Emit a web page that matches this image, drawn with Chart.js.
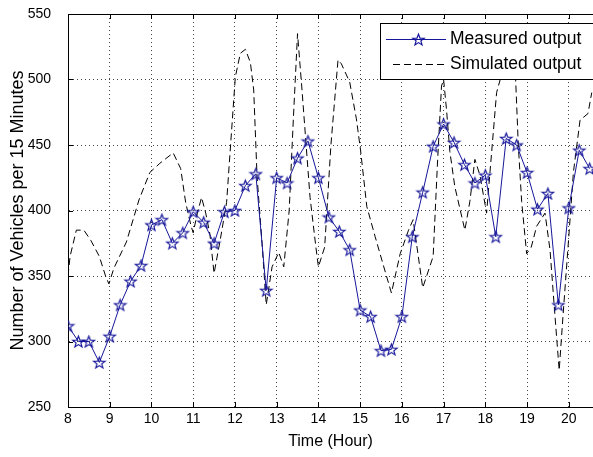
<!DOCTYPE html>
<html>
<head>
<meta charset="utf-8">
<script src="https://cdn.jsdelivr.net/npm/chart.js@4.4.1/dist/chart.umd.min.js"></script>
<style>
  html, body { margin: 0; padding: 0; background: #fff; overflow: hidden; }
  #wrap { width: 593px; height: 457px; }
</style>
</head>
<body>
<div id="wrap"><canvas id="myChart"></canvas></div>
<script>
// Measured output, one point every 15 minutes
const measuredTimes = [8, 8.25, 8.5, 8.75, 9, 9.25, 9.5, 9.75, 10, 10.25, 10.5, 10.75,
    11, 11.25, 11.5, 11.75, 12, 12.25, 12.5, 12.75, 13, 13.25, 13.5, 13.75,
    14, 14.25, 14.5, 14.75, 15, 15.25, 15.5, 15.75, 16, 16.25, 16.5, 16.75,
    17, 17.25, 17.5, 17.75, 18, 18.25, 18.5, 18.75, 19, 19.25, 19.5, 19.75,
    20, 20.25, 20.5];
const measuredValues = [312, 300, 300, 284, 304, 328, 346, 358, 389, 393, 375, 383,
    399, 391, 375, 399, 400, 419, 428, 339, 425, 421, 440, 453,
    425, 395, 384, 370, 324, 319, 293, 294, 319, 380, 414, 449,
    466, 452, 435, 421, 427, 380, 455, 450, 429, 401, 413, 328,
    402, 446, 432];

// Simulated output
const simulatedTimes = [8.0, 8.05, 8.2, 8.38, 8.55, 8.75, 8.9, 8.98, 9.1, 9.4, 9.7, 9.96,
    10.2, 10.52, 10.7, 10.82, 10.95, 11.0, 11.1, 11.2, 11.3, 11.4, 11.5, 11.65,
    11.8, 11.9, 12.01, 12.13, 12.25, 12.37, 12.45, 12.53, 12.65, 12.75, 12.89, 13.05,
    13.17, 13.3, 13.4, 13.5, 13.6, 13.8, 13.94, 14.0, 14.15, 14.3, 14.47, 14.55,
    14.75, 14.91, 15.01, 15.16, 15.36, 15.54, 15.75, 15.96, 16.16, 16.27, 16.5, 16.75,
    16.85, 16.95, 17.0, 17.07, 17.15, 17.27, 17.51, 17.63, 17.75, 17.87, 18.03, 18.27,
    18.4, 18.55, 18.72, 18.79, 18.87, 18.99, 19.1, 19.23, 19.43, 19.55, 19.67, 19.77,
    19.86, 20.0, 20.11, 20.27, 20.46, 20.55];
const simulatedValues = [350, 365, 385, 385, 377, 365, 350, 344, 356, 376, 408, 429,
    436, 444, 432, 406, 388, 383, 398, 410, 398, 382, 352, 378,
    406, 452, 502, 520, 523, 513, 492, 426, 375, 328, 357, 368,
    357, 400, 470, 535, 495, 410, 372, 357, 372, 450, 515, 512,
    498, 470, 446, 403, 380, 360, 337, 367, 385, 393, 341, 365,
    434, 495, 500, 477, 445, 418, 385, 407, 439, 427, 398, 490,
    505, 515, 505, 450, 407, 367, 372, 388, 398, 370, 319, 278,
    319, 380, 429, 469, 474, 490];

const xTicks = [8, 9, 10, 11, 12, 13, 14, 15, 16, 17, 18, 19, 20];
const yTicks = [250, 300, 350, 400, 450, 500, 550];
const seriesNames = ['Measured output', 'Simulated output'];

const BLUE = '#16169a';
const FONT = '"Liberation Sans", Arial, sans-serif';

// MATLAB-like pentagram marker
function makeStar(r, color) {
    const c = document.createElement('canvas');
    const s = Math.ceil(r * 2 + 3);
    c.width = s; c.height = s;
    const g = c.getContext('2d');
    g.strokeStyle = color;
    g.lineWidth = 1.2;
    g.beginPath();
    for (let i = 0; i < 10; i++) {
        const rad = i % 2 === 0 ? r : r * 0.42;
        const a = -Math.PI / 2 + i * Math.PI / 5;
        const px = s / 2 + rad * Math.cos(a), py = s / 2 + rad * Math.sin(a) + 0.6;
        if (i === 0) g.moveTo(px, py); else g.lineTo(px, py);
    }
    g.closePath();
    g.stroke();
    return c;
}
const star = makeStar(6, BLUE);

// box top edge, inward ticks, and the boxed legend
const framePlugin = {
    id: 'frame',
    afterDatasetsDraw(chart) {
        const {ctx, chartArea: a, scales: {x, y}} = chart;
        ctx.save();
        ctx.strokeStyle = '#000';
        ctx.lineWidth = 1;
        ctx.beginPath();
        ctx.moveTo(a.left, Math.round(a.top) + 0.5);
        ctx.lineTo(a.right, Math.round(a.top) + 0.5);
        xTicks.forEach(v => {
            const px = Math.round(x.getPixelForValue(v)) + 0.5;
            ctx.moveTo(px, a.bottom); ctx.lineTo(px, a.bottom - 5);
            ctx.moveTo(px, a.top); ctx.lineTo(px, a.top + 5);
        });
        yTicks.forEach(v => {
            const py = Math.round(y.getPixelForValue(v)) + 0.5;
            ctx.moveTo(a.left, py); ctx.lineTo(a.left + 5, py);
        });
        ctx.stroke();

        // legend
        const lx = 380.5, ly = 23.5, lw = 230, lh = 56;
        ctx.fillStyle = '#fff';
        ctx.fillRect(lx, ly, lw, lh);
        ctx.strokeRect(lx, ly, lw, lh);
        const rows = [ly + 16, ly + 41];
        ctx.font = '17.5px ' + FONT;
        ctx.textBaseline = 'middle';
        ctx.fillStyle = '#000';
        // measured sample
        ctx.strokeStyle = BLUE;
        ctx.beginPath();
        ctx.moveTo(386, rows[0]); ctx.lineTo(446, rows[0]);
        ctx.stroke();
        ctx.drawImage(star, Math.round(418 - star.width / 2), Math.round(rows[0] - star.height / 2));
        // simulated sample
        ctx.strokeStyle = '#000';
        ctx.setLineDash([7, 4]);
        ctx.beginPath();
        ctx.moveTo(393, rows[1]); ctx.lineTo(447, rows[1]);
        ctx.stroke();
        ctx.setLineDash([]);
        ctx.fillText(seriesNames[0], 450, rows[0]);
        ctx.fillText(seriesNames[1], 450, rows[1]);
        ctx.restore();
    }
};

const ctx = document.getElementById('myChart').getContext('2d');
const chart = new Chart(ctx, {
    type: 'line',
    data: {
        datasets: [
            {
                label: seriesNames[0],
                data: measuredTimes.map((t, i) => ({x: t, y: measuredValues[i]})),
                borderColor: BLUE,
                borderWidth: 1,
                pointStyle: star,
                pointRadius: 6,
                tension: 0
            },
            {
                label: seriesNames[1],
                data: simulatedTimes.map((t, i) => ({x: t, y: simulatedValues[i]})),
                borderColor: '#000',
                borderWidth: 1,
                borderDash: [7, 4],
                pointRadius: 0,
                tension: 0
            }
        ]
    },
    options: {
        responsive: true,
        maintainAspectRatio: false,
        animation: false,
        layout: { autoPadding: false, padding: { top: 14, right: 0, left: 0, bottom: 0 } },
        plugins: { legend: { display: false }, tooltip: { enabled: false } },
        scales: {
            x: {
                type: 'linear',
                min: 8,
                max: 20.58,
                afterBuildTicks: s => { s.ticks = xTicks.map(v => ({value: v})); },
                afterFit: s => { s.height = 50; s.paddingRight = 0; s.paddingLeft = 0; },
                ticks: { font: { size: 14, family: FONT }, color: '#000', padding: 4, maxRotation: 0 },
                grid: { color: '#444', drawTicks: false },
                border: { color: '#000', width: 1, dash: [1, 3] },
                title: { display: true, text: 'Time (Hour)', font: { size: 16, family: FONT }, color: '#000', padding: { top: 0, bottom: 6 } }
            },
            y: {
                min: 250,
                max: 550,
                afterBuildTicks: s => { s.ticks = yTicks.map(v => ({value: v})); },
                afterFit: s => { s.width = 68; s.paddingTop = 0; s.paddingBottom = 0; },
                ticks: { font: { size: 14, family: FONT }, color: '#000', padding: 17 },
                grid: { color: '#444', drawTicks: false },
                border: { color: '#000', width: 1, dash: [1, 3] },
                title: { display: true, text: 'Number of Vehicles per 15 Minutes', font: { size: 18, family: FONT }, color: '#000', padding: { top: 7, bottom: 0 } }
            }
        }
    },
    plugins: [framePlugin]
});
</script>
</body>
</html>
